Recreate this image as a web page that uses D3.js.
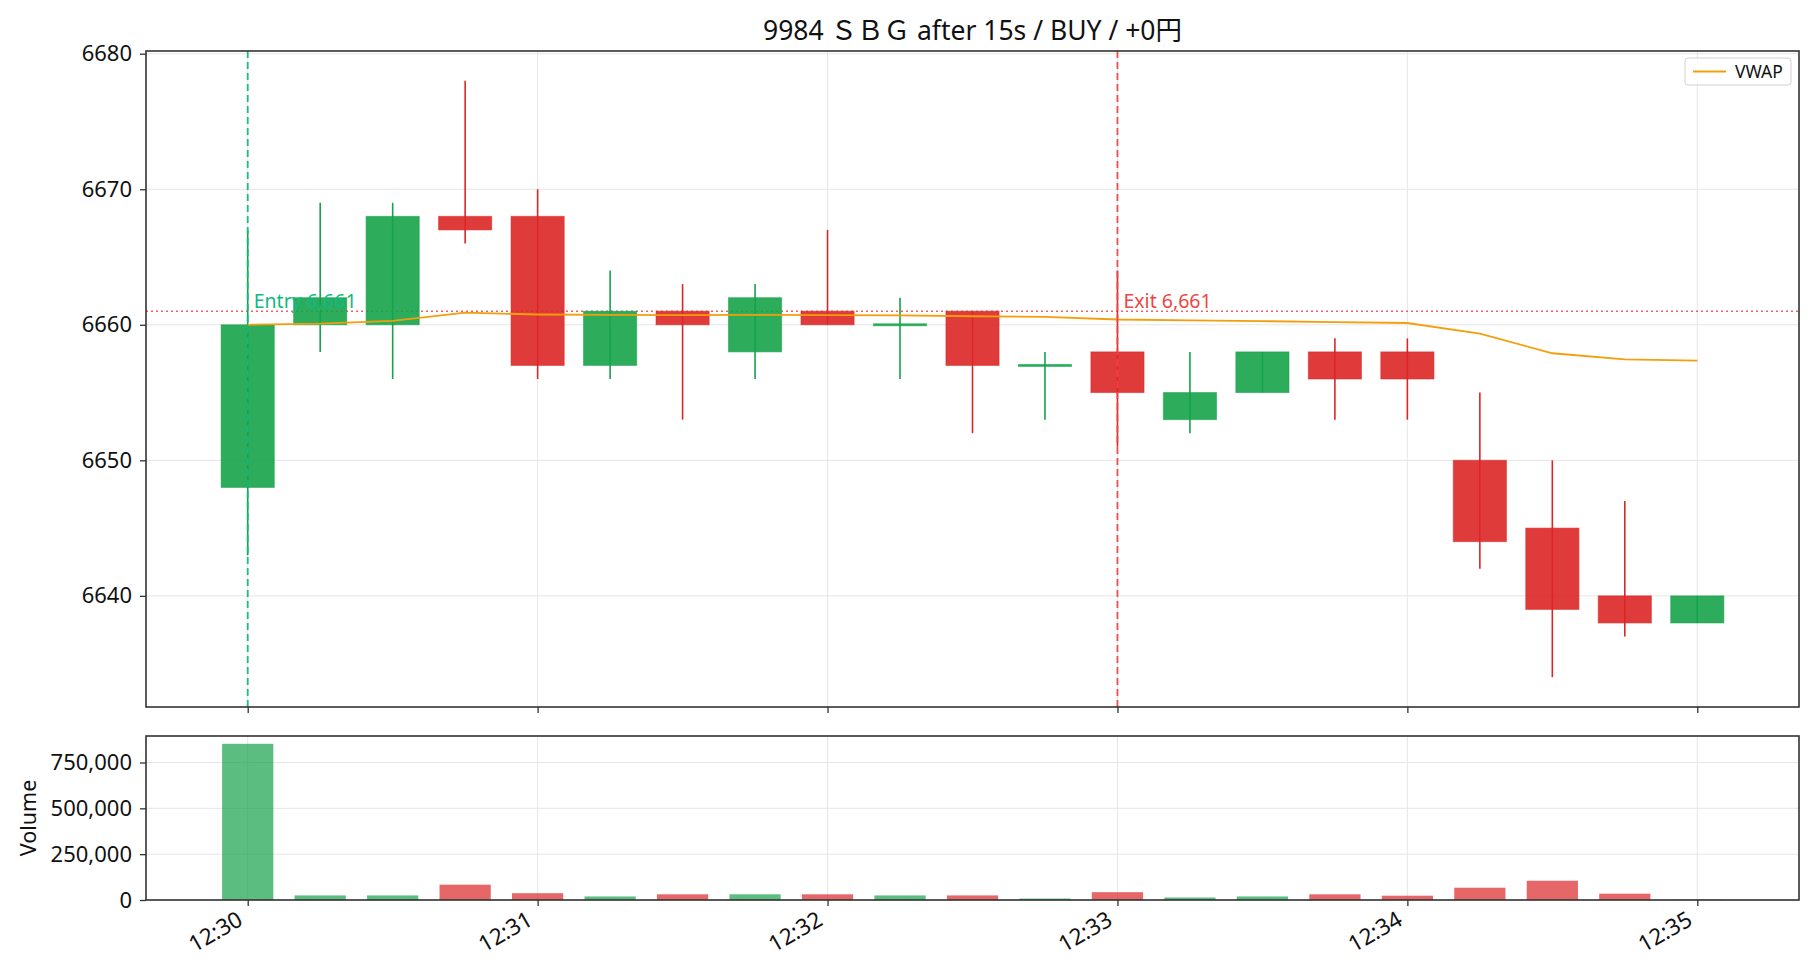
<!DOCTYPE html>
<html>
<head>
<meta charset="utf-8">
<script src="https://cdn.jsdelivr.net/npm/d3@7"></script>
<style>
  body { margin: 0; background: #fff; }
  text { font-family: "Noto Sans", "Noto Sans CJK JP", sans-serif; }
</style>
</head>
<body>
<div id="chart"></div>
<script>
// dataset (15s candles)
const times = ["12:30:00","12:30:15","12:30:30","12:30:45","12:31:00","12:31:15","12:31:30","12:31:45",
               "12:32:00","12:32:15","12:32:30","12:32:45","12:33:00","12:33:15","12:33:30","12:33:45",
               "12:34:00","12:34:15","12:34:30","12:34:45","12:35:00"];
const opens  = [6648,6660,6660,6668,6668,6657,6661,6658,6661,6660,6661,6657,6658,6653,6655,6658,6658,6650,6645,6640,6638];
const closes = [6660,6662,6668,6667,6657,6661,6660,6662,6660,6660,6657,6657,6655,6655,6658,6656,6656,6644,6639,6638,6640];
const highs  = [6667,6669,6669,6678,6670,6664,6663,6663,6667,6662,6661,6658,6664,6658,6658,6659,6659,6655,6650,6647,6640];
const lows   = [6643,6658,6656,6666,6656,6656,6653,6656,6660,6656,6652,6653,6651,6652,6655,6653,6653,6642,6634,6637,6638];
const vwap   = [6660.0,6660.08,6660.29,6660.89,6660.76,6660.73,6660.71,6660.73,6660.72,6660.70,6660.63,6660.58,
                6660.39,6660.32,6660.27,6660.20,6660.13,6659.35,6657.90,6657.45,6657.35];
const volumes = [852000,25000,25000,83600,37000,19400,31000,31000,31000,25000,25000,7800,42700,13600,19400,31000,
                 23500,67000,105000,34500,1500];
const xTicks = ["12:30","12:31","12:32","12:33","12:34","12:35"];
const volTicks = [0, 250000, 500000, 750000];
const priceTicks = [6640, 6650, 6660, 6670, 6680];

const entry = {time: "12:30:00", price: 6661};
const exit  = {time: "12:33:00", price: 6661};
const titleText = "9984 ＳＢＧ after 15s / BUY / +0円";

// chart variables
const width = 1820, height = 980;
const left = 146, right = 1799;
const main = {top: 51, bottom: 707};
const vol = {top: 736, bottom: 900};

const GREEN = "#16a34a", RED = "#dc2626";
const parseT = d3.timeParse("%H:%M:%S");
const parseM = d3.timeParse("%H:%M");

const candles = times.map((t, i) => ({
  t: parseT(t), o: opens[i], c: closes[i], h: highs[i], l: lows[i], v: volumes[i], vw: vwap[i]
}));

const candleW = 11 * 1000;   // ms
const volW = 10.6 * 1000;

// x domain like matplotlib: data extent + 5% margin
const t0 = d3.min(candles, d => +d.t) - candleW / 2;
const t1 = d3.max(candles, d => +d.t) + candleW / 2;
const xm = (t1 - t0) * 0.05;
const x = d3.scaleTime().domain([new Date(t0 - xm), new Date(t1 + xm)]).range([left, right]);

const lo = d3.min(lows), hi = d3.max(highs), ym = (hi - lo) * 0.05;
const y = d3.scaleLinear().domain([lo - ym, hi + ym]).range([main.bottom, main.top]);

const yv = d3.scaleLinear().domain([0, d3.max(volumes) * 1.05]).range([vol.bottom, vol.top]);

const svg = d3.select("#chart").append("svg")
    .attr("width", width).attr("height", height)
    .attr("viewBox", [0, 0, width, height]);

svg.append("defs").append("clipPath").attr("id", "clipMain")
  .append("rect").attr("x", left).attr("y", main.top).attr("width", right - left).attr("height", main.bottom - main.top);

// grids
function grid(g, top, bottom, yScale, yTicks) {
  g.selectAll(".gx").data(xTicks).join("line")
    .attr("x1", d => x(parseM(d))).attr("x2", d => x(parseM(d)))
    .attr("y1", top).attr("y2", bottom)
    .attr("stroke", "#e6e6e6").attr("stroke-width", 1);
  g.selectAll(".gy").data(yTicks).join("line")
    .attr("x1", left).attr("x2", right)
    .attr("y1", d => yScale(d)).attr("y2", d => yScale(d))
    .attr("stroke", "#e6e6e6").attr("stroke-width", 1);
}
grid(svg.append("g"), main.top, main.bottom, y, priceTicks);
grid(svg.append("g"), vol.top, vol.bottom, yv, volTicks);

// main panel
const gMain = svg.append("g").attr("clip-path", "url(#clipMain)");

// entry price line
gMain.append("line")
  .attr("x1", left).attr("x2", right)
  .attr("y1", y(entry.price)).attr("y2", y(entry.price))
  .attr("stroke", "#ef4444").attr("stroke-opacity", 0.85)
  .attr("stroke-width", 1.4).attr("stroke-dasharray", "2,3");

// wicks
gMain.append("g").selectAll("line").data(candles).join("line")
  .attr("x1", d => x(d.t)).attr("x2", d => x(d.t))
  .attr("y1", d => y(d.h)).attr("y2", d => y(d.l))
  .attr("stroke", d => d.c >= d.o ? GREEN : RED)
  .attr("stroke-width", 1.6);

// bodies
gMain.append("g").selectAll("rect").data(candles).join("rect")
  .attr("x", d => x(new Date(+d.t - candleW / 2)))
  .attr("width", d => x(new Date(+d.t + candleW / 2)) - x(new Date(+d.t - candleW / 2)))
  .attr("y", d => y(Math.max(d.o, d.c)) - (d.o === d.c ? 1 : 0))
  .attr("height", d => Math.max(2, Math.abs(y(d.o) - y(d.c))))
  .attr("fill", d => d.c >= d.o ? GREEN : RED)
  .attr("fill-opacity", 0.9)
  .attr("stroke", d => d.c >= d.o ? GREEN : RED)
  .attr("stroke-opacity", 0.55)
  .attr("stroke-width", 1);

// vwap
gMain.append("path").datum(candles)
  .attr("fill", "none").attr("stroke", "#f59e0b").attr("stroke-width", 1.8)
  .attr("d", d3.line().x(d => x(d.t)).y(d => y(d.vw)));

// entry / exit markers
[[entry, "#10b981", "Entry"], [exit, "#ef4444", "Exit"]].forEach(([m, col, name]) => {
  const xx = x(parseT(m.time));
  gMain.append("line")
    .attr("x1", xx).attr("x2", xx).attr("y1", main.top).attr("y2", main.bottom)
    .attr("stroke", col).attr("stroke-width", 1.8).attr("stroke-dasharray", "7,4")
    .attr("stroke-opacity", 0.95);
  gMain.append("text")
    .attr("x", xx + 6).attr("y", y(m.price) - 3)
    .attr("fill", col).attr("font-size", 19.5)
    .text(`${name} ${d3.format(",")(m.price)}`);
});

// volume bars
svg.append("g").selectAll("rect").data(candles).join("rect")
  .attr("x", d => x(new Date(+d.t - volW / 2)))
  .attr("width", d => x(new Date(+d.t + volW / 2)) - x(new Date(+d.t - volW / 2)))
  .attr("y", d => yv(d.v))
  .attr("height", d => yv(0) - yv(d.v))
  .attr("fill", d => d.c >= d.o ? GREEN : RED)
  .attr("fill-opacity", 0.7);

// axes
const tickVals = xTicks.map(parseM);
svg.append("g").attr("transform", `translate(0,${main.bottom})`)
  .call(d3.axisBottom(x).tickValues(tickVals).tickSize(6).tickFormat(""))
  .call(g => g.select(".domain").remove());
svg.append("g").attr("transform", `translate(${left},0)`)
  .call(d3.axisLeft(y).tickValues(priceTicks).tickSize(6).tickFormat(d3.format("d")))
  .call(g => g.select(".domain").remove())
  .call(g => g.selectAll("text").attr("font-size", 22).attr("fill", "#111").attr("x", -14));

svg.append("g").attr("transform", `translate(0,${vol.bottom})`)
  .call(d3.axisBottom(x).tickValues(tickVals).tickSize(6).tickFormat(d3.timeFormat("%H:%M")))
  .call(g => g.select(".domain").remove())
  .call(g => g.selectAll("text")
      .attr("font-size", 22.5).attr("fill", "#111")
      .attr("y", 0).attr("dy", 0)
      .attr("text-anchor", "end")
      .attr("transform", "translate(-4,24) rotate(-30)"));
svg.append("g").attr("transform", `translate(${left},0)`)
  .call(d3.axisLeft(yv).tickValues(volTicks).tickSize(6).tickFormat(d3.format(",")))
  .call(g => g.select(".domain").remove())
  .call(g => g.selectAll("text").attr("font-size", 22).attr("fill", "#111").attr("x", -14));

svg.selectAll(".tick line").attr("stroke", "#333").attr("stroke-width", 1.3);

// frames
[main, vol].forEach(p => {
  svg.append("rect").attr("x", left).attr("y", p.top)
    .attr("width", right - left).attr("height", p.bottom - p.top)
    .attr("fill", "none").attr("stroke", "#333").attr("stroke-width", 1.6);
});

// title and labels
svg.append("text")
  .attr("x", (left + right) / 2).attr("y", 40)
  .attr("text-anchor", "middle").attr("font-size", 26.5).attr("fill", "#111")
  .text(titleText);

svg.append("text")
  .attr("transform", `translate(36,${(vol.top + vol.bottom) / 2}) rotate(-90)`)
  .attr("text-anchor", "middle").attr("font-size", 21.5).attr("fill", "#111")
  .text("Volume");

// legend
const lg = svg.append("g").attr("transform", "translate(1685,58)");
lg.append("rect").attr("width", 106).attr("height", 27).attr("rx", 3)
  .attr("fill", "#fff").attr("fill-opacity", 0.8).attr("stroke", "#d0d0d0");
lg.append("line").attr("x1", 8).attr("x2", 41).attr("y1", 13.5).attr("y2", 13.5)
  .attr("stroke", "#f59e0b").attr("stroke-width", 1.8);
lg.append("text").attr("x", 50).attr("y", 19.5).attr("font-size", 17.5).attr("fill", "#111").text("VWAP");
</script>
</body>
</html>
